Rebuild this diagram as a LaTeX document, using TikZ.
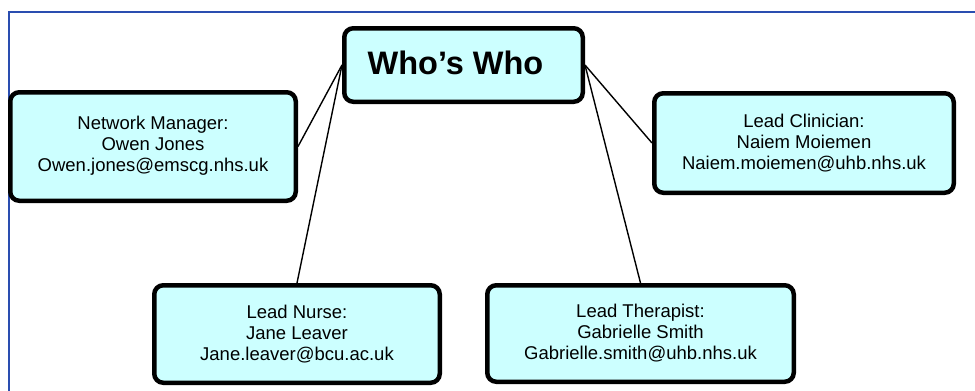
\documentclass[tikz,border=0pt]{standalone}
\usepackage{fontspec}
\setmainfont{Liberation Sans}
\definecolor{boxfill}{HTML}{CCFFFF}
\definecolor{framecol}{HTML}{2A4DB0}
\begin{document}
\begin{tikzpicture}[x=1pt,y=-1pt,
  card/.style={draw=black,line width=4.5pt,fill=boxfill,rounded corners=9pt,
    align=center,inner sep=0pt,font=\fontsize{18.5}{21}\selectfont},
  link/.style={draw=black,line width=1.4pt}]
\useasboundingbox (0,0) rectangle (975,391);
\draw[framecol,line width=2pt] (8.5,391) -- (8.5,11.5) -- (975,11.5);
\node[card,minimum width=238.5pt,minimum height=73.5pt,font=\fontsize{32.5}{38}\bfseries\selectfont] (who) at (463.5,65) {\raisebox{5pt}{Who’s Who\hspace{16pt}}};
\node[card,minimum width=285.5pt,minimum height=108.5pt] (nm) at (153,146.5) {\raisebox{4pt}{\begin{tabular}{@{}c@{}}Network Manager:\\Owen Jones\\Owen.jones@emscg.nhs.uk\end{tabular}}};
\node[card,minimum width=299.5pt,minimum height=99.5pt] (lc) at (804,143) {Lead Clinician:\\Naiem Moiemen\\Naiem.moiemen@uhb.nhs.uk};
\node[card,minimum width=285.5pt,minimum height=97.5pt] (ln) at (297,334) {Lead Nurse:\\Jane Leaver\\Jane.leaver@bcu.ac.uk};
\node[card,minimum width=306.5pt,minimum height=96.5pt] (lt) at (640.5,333.5) {Lead Therapist:\\Gabrielle Smith\\Gabrielle.smith@uhb.nhs.uk};
\draw[link] (who.west) -- (nm.east);
\draw[link] (who.west) -- (ln.north);
\draw[link] (who.east) -- (lc.west);
\draw[link] (who.east) -- (lt.north);
\end{tikzpicture}
\end{document}
